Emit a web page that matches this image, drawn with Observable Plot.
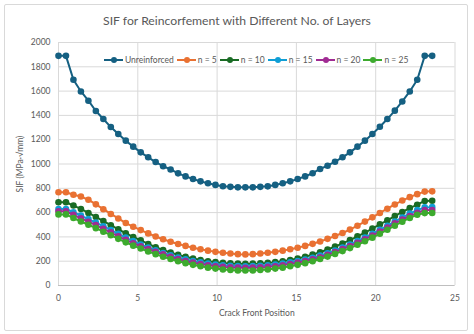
<!DOCTYPE html>
<html><head><meta charset="utf-8">
<script src="https://cdn.jsdelivr.net/npm/d3@7"></script>
<script src="https://cdn.jsdelivr.net/npm/@observablehq/plot@0.6"></script>
<style>
body{margin:0;background:#fff;font-family:Lato,"Open Sans",sans-serif;}
#wrap{position:relative;width:474px;height:334px;overflow:hidden;background:#fff;}
#frame{position:absolute;left:4px;top:4px;width:464px;height:327px;border:1px solid #d9d9d9;box-sizing:border-box;border-radius:2px;}
#title{position:absolute;left:0;width:474px;top:13px;text-align:center;font-size:12.2px;color:#595959;line-height:16px;}
#chart{position:absolute;left:0;top:34px;}
#legend{position:absolute;top:54px;left:104px;display:flex;align-items:center;font-size:8.5px;color:#595959;line-height:12px;}
.item{display:flex;align-items:center;margin-right:3px;}
.item svg{margin-right:2px;}
</style></head>
<body><div id="wrap"><div id="frame"></div><div id="title"></div><div id="chart"></div><div id="legend"></div></div>
<script>
const titleText = "SIF for Reincorfement with Different No. of Layers";
const xLabel = "Crack Front Position";
const yLabel = "SIF (MPa·√mm)";
const seriesNames = ["Unreinforced", "n = 5", "n = 10", "n = 15", "n = 20", "n = 25"];
const seriesColors = ["#156082", "#E97132", "#196B24", "#0F9ED5", "#A02B93", "#3DAA2E"];
const xTicks = [0, 5, 10, 15, 20, 25];
const yTicks = [0, 200, 400, 600, 800, 1000, 1200, 1400, 1600, 1800, 2000];
const positions = [0, 0.471, 0.942, 1.414, 1.885, 2.356, 2.827, 3.299, 3.770, 4.241, 4.712, 5.184, 5.655, 6.126, 6.597, 7.069, 7.540, 8.011, 8.482, 8.954, 9.425, 9.896, 10.367, 10.838, 11.310, 11.781, 12.252, 12.723, 13.195, 13.666, 14.137, 14.608, 15.080, 15.551, 16.022, 16.493, 16.965, 17.436, 17.907, 18.378, 18.850, 19.321, 19.792, 20.263, 20.735, 21.206, 21.677, 22.148, 22.619, 23.091, 23.562];
const unreinforced = [1890,1890,1693,1597,1521,1436,1370,1304,1247,1192,1143,1096,1055,1016,982,955,923,898,877,857,841,828,817,812,808,808, 808,812,816,828,841,857,877,898,924,959,986,1019,1055,1096,1143,1192,1247,1307,1370,1439,1515,1597,1693,1890,1890];
const n5 = [767,767,747,732,706,668,628,589,552,514,484,456,429,403,381,360,342,326,311,298,287,277,269,263,258,256, 258,263,269,277,287,298,311,326,343,362,384,407,432,460,492,526,561,597,632,667,699,727,752,773,775];
const n10 = [685,685,658,630,597,564,530,496,462,430,399,371,342,315,292,271,252,236,222,210,200,192,186,182,180,179, 180,182,186,192,200,210,222,237,254,274,296,320,346,374,404,436,469,503,537,571,605,637,665,696,698];
const n15 = [630,630,603,575,547,518,488,457,425,394,365,338,313,290,268,248,230,215,201,190,180,172,166,162,160,159, 160,162,166,172,180,190,201,214,229,246,266,288,312,338,366,395,426,458,492,526,560,592,620,643,645];
const n20 = [611,611,581,553,525,497,466,437,405,376,348,323,300,277,256,236,217,201,188,177,167,159,153,149,147,146, 147,149,153,159,167,177,188,201,216,233,253,275,299,325,352,381,412,444,477,511,543,572,598,620,622];
const n25 = [585,585,555,527,500,472,443,414,384,355,328,304,280,258,237,218,200,184,170,158,147,139,132,127,124,123, 124,127,132,139,147,158,170,184,200,218,238,260,283,308,335,364,394,426,459,492,525,556,582,596,597];

const seriesValues = [unreinforced, n5, n10, n15, n20, n25];
const rows = [];
seriesNames.forEach((name, s) => seriesValues[s].forEach((v, i) => rows.push({pos: positions[i], sif: v, series: name})));

document.getElementById("title").textContent = titleText;

const seriesMarks = [];
seriesNames.forEach((name) => {
  const data = rows.filter(d => d.series === name);
  seriesMarks.push(Plot.line(data, {x: "pos", y: "sif", stroke: "series", strokeWidth: 2}));
  seriesMarks.push(Plot.dot(data, {x: "pos", y: "sif", fill: "series", r: 3.3, stroke: "none"}));
});

const chart = Plot.plot({
  width: 474, height: 300,
  marginTop: 8, marginBottom: 49, marginLeft: 58, marginRight: 19.5,
  style: {fontFamily: "Lato, 'Open Sans', sans-serif", fontSize: "8.5px", color: "#595959", background: "transparent", overflow: "visible"},
  x: {domain: [0, 25]},
  y: {domain: [0, 2000]},
  color: {domain: seriesNames, range: seriesColors},
  marks: [
    Plot.gridX(xTicks, {stroke: "#d9d9d9", strokeOpacity: 1}),
    Plot.gridY(yTicks, {stroke: "#d9d9d9", strokeOpacity: 1}),
    Plot.ruleY([0], {stroke: "#bfbfbf"}),
    Plot.axisX(xTicks, {tickSize: 0, tickPadding: 9, tickFormat: d => String(d), label: xLabel, labelAnchor: "center", labelArrow: "none", labelOffset: 30, fontSize: 8.5}),
    Plot.axisY(yTicks, {tickSize: 0, tickPadding: 8, tickFormat: d => String(d), label: yLabel, labelAnchor: "center", labelArrow: "none", labelOffset: 42, fontSize: 8.5}),
    ...seriesMarks
  ]
});
document.getElementById("chart").appendChild(chart);

const legend = document.getElementById("legend");
seriesNames.forEach((name, s) => {
  const item = document.createElement("div");
  item.className = "item";
  const c = seriesColors[s];
  item.innerHTML = `<svg width="19" height="8"><line x1="0" y1="4" x2="19" y2="4" stroke="${c}" stroke-width="2"/><circle cx="10" cy="4" r="3" fill="${c}"/></svg><span>${name}</span>`;
  legend.appendChild(item);
});
</script></body></html>
